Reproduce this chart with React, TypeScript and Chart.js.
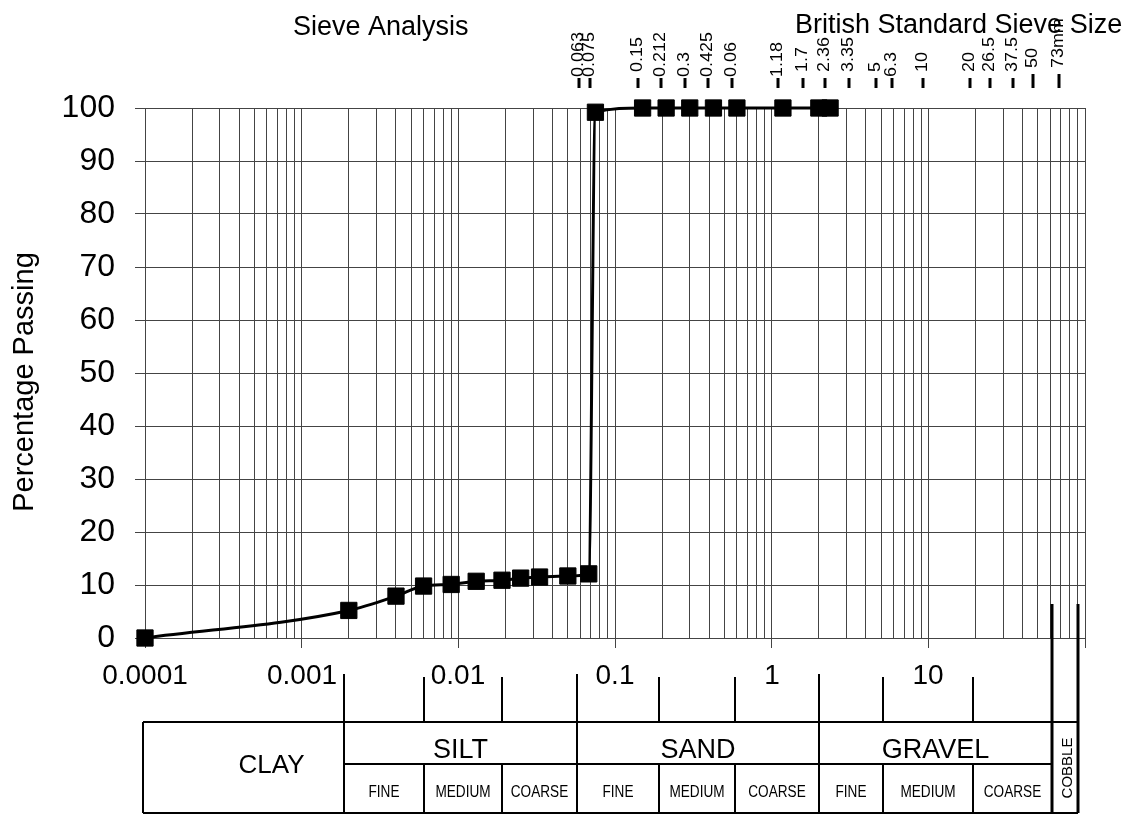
import React, { useEffect, useRef } from 'react';
import { Chart, registerables } from 'chart.js';

Chart.register(...registerables);

const FONT = '"Liberation Sans", Arial, Helvetica, sans-serif';

// ---- Data ----
const grainSize = [0.0001, 0.002, 0.004, 0.006, 0.009, 0.013, 0.019, 0.025, 0.033, 0.05, 0.068, 0.075, 0.15, 0.212, 0.3, 0.425, 0.6, 1.18, 2.0, 2.36];
const percentPassing = [0, 5.2, 7.9, 9.8, 10.1, 10.7, 10.9, 11.3, 11.5, 11.7, 12.1, 99.2, 100, 100, 100, 100, 100, 100, 100, 100];

const xTickValues = [0.0001, 0.001, 0.01, 0.1, 1, 10];
const xTickLabels = ['0.0001', '0.001', '0.01', '0.1', '1', '10'];
const decades = [0.0001, 0.001, 0.01, 0.1, 1, 10];
const multipliers = [1, 2, 3, 4, 5, 6, 7, 8, 9];
const yTickValues = [0, 10, 20, 30, 40, 50, 60, 70, 80, 90, 100];

const sieveSizes = [0.063, 0.075, 0.15, 0.212, 0.3, 0.425, 0.6, 1.18, 1.7, 2.36, 3.35, 5, 6.3, 10, 20, 26.5, 37.5, 50, 73];
const sieveLabels = ['0.063', '0.075', ' 0.15', '0.212', '0.3', '0.425', '0.06', '1.18', ' 1.7', ' 2.36', ' 3.35', ' 5', '6.3', ' 10', ' 20', ' 26.5', ' 37.5', ' 50', ' 73mm'];

const classBounds = [0.00185, 0.006, 0.019, 0.057, 0.19, 0.58, 2.0, 5.1, 19.2, 62, 90];
const mainClasses = ['CLAY', 'SILT', 'SAND', 'GRAVEL', 'COBBLE'];
const subClasses = ['FINE', 'MEDIUM', 'COARSE'];

const titleLeft = 'Sieve Analysis';
const titleRight = 'British Standard Sieve Size';
const yTitle = 'Percentage Passing';

function drawText(ctx: CanvasRenderingContext2D, s: string, x: number, y: number, size: number,
  align: CanvasTextAlign = 'center', baseline: CanvasTextBaseline = 'alphabetic', sx = 1, rot = 0) {
  ctx.save();
  ctx.translate(x, y);
  if (rot) ctx.rotate(rot);
  ctx.scale(sx, 1);
  ctx.font = `${size}px ${FONT}`;
  ctx.textAlign = align;
  ctx.textBaseline = baseline;
  ctx.fillStyle = '#000';
  ctx.fillText(s, 0, 0);
  ctx.restore();
}

function line(ctx: CanvasRenderingContext2D, x1: number, y1: number, x2: number, y2: number, w = 2) {
  ctx.save();
  ctx.strokeStyle = '#000';
  ctx.lineWidth = w;
  ctx.beginPath();
  ctx.moveTo(x1, y1);
  ctx.lineTo(x2, y2);
  ctx.stroke();
  ctx.restore();
}

const overlay = {
  id: 'overlay',
  afterDraw(chart: any) {
    const ctx: CanvasRenderingContext2D = chart.ctx;
    const xs = chart.scales.x;
    const ys = chart.scales.y;
    const px = (v: number) => Math.round(xs.getPixelForValue(v));

    // x tick labels
    xTickValues.forEach((v, i) => drawText(ctx, xTickLabels[i], px(v), 676, 28, 'center', 'middle'));

    // top sieve labels
    sieveSizes.forEach((s, i) => {
      const x = px(s) - 5;
      const long = s >= 50;
      line(ctx, x, long ? 74 : 78, x, 88, 3);
      drawText(ctx, sieveLabels[i], x, long ? 73 : 77, 16, 'left', 'middle', 1.12, -Math.PI / 2);
    });

    // titles
    drawText(ctx, titleLeft, 293, 35, 27, 'left');
    drawText(ctx, titleRight, 795, 33, 27, 'left');
    drawText(ctx, yTitle, 33, 382, 29, 'center', 'alphabetic', 1, -Math.PI / 2);

    // classification table
    const b = classBounds.map(px);
    const left = px(xs.min) - 2;
    const top = 722, mid = 764, bot = 813;
    const cobbleTop = Math.round(ys.getPixelForValue(6.5));
    line(ctx, left, top, b[10], top);
    line(ctx, b[0], mid, b[9], mid);
    line(ctx, left, bot, b[10], bot);
    line(ctx, left, top, left, bot);
    [0, 3, 6].forEach(i => line(ctx, b[i], 674, b[i], bot));
    [1, 2, 4, 5, 7, 8].forEach(i => {
      line(ctx, b[i], 677, b[i], top);
      line(ctx, b[i], mid, b[i], bot);
    });
    line(ctx, b[9], cobbleTop, b[9], bot, 3);
    line(ctx, b[10], cobbleTop, b[10], bot, 3);

    drawText(ctx, mainClasses[0], (left + b[0]) / 2 + 28, 773, 26);
    drawText(ctx, mainClasses[1], (b[0] + b[3]) / 2, 758, 27);
    drawText(ctx, mainClasses[2], (b[3] + b[6]) / 2, 758, 27);
    drawText(ctx, mainClasses[3], (b[6] + b[9]) / 2, 758, 27);
    drawText(ctx, mainClasses[4], (b[9] + b[10]) / 2 + 3, 768, 15, 'center', 'middle', 1, -Math.PI / 2);

    [0, 3, 6].forEach(g => {
      subClasses.forEach((s, k) => {
        const cx = (b[g + k] + b[g + k + 1]) / 2;
        drawText(ctx, s, cx, 797, 16, 'center', 'alphabetic', 0.85);
      });
    });
  },
};

export default function App() {
  const ref = useRef<HTMLCanvasElement>(null);
  useEffect(() => {
    document.body.style.margin = '0';
    const canvas = ref.current!;
    const gridColor = '#444';
    const isMajor = (v: number) => Math.abs(Math.log10(v) - Math.round(Math.log10(v))) < 1e-6;
    const chart = new Chart(canvas, {
      type: 'line',
      data: {
        datasets: [{
          data: grainSize.map((x, i) => ({ x, y: percentPassing[i] })),
          borderColor: '#000',
          borderWidth: 3,
          pointStyle: 'rect',
          pointRadius: 11.5,
          pointBackgroundColor: '#000',
          pointBorderColor: '#000',
          pointBorderWidth: 1,
          cubicInterpolationMode: 'monotone',
          clip: false as any,
        }],
      },
      options: {
        responsive: false,
        animation: false,
        layout: { padding: { top: 108, right: 46, left: 0, bottom: 0 } },
        plugins: { legend: { display: false }, tooltip: { enabled: false } },
        scales: {
          x: {
            type: 'logarithmic',
            min: 0.0001,
            max: 100,
            afterBuildTicks: (s: any) => {
              const t: any[] = [];
              decades.forEach(d => multipliers.forEach(m => t.push({ value: Number((d * m).toPrecision(3)) })));
              t.push({ value: 100 });
              s.ticks = t;
            },
            afterFit: (s: any) => { s.height = 178; },
            ticks: { display: false, autoSkip: false },
            grid: {
              color: gridColor,
              lineWidth: 1,
              drawTicks: true,
              tickLength: 10,
              tickColor: (c: any) => (c.tick && isMajor(c.tick.value) ? gridColor : 'rgba(0,0,0,0)'),
            },
            border: { display: false },
          },
          y: {
            min: 0,
            max: 100,
            afterBuildTicks: (s: any) => { s.ticks = yTickValues.map(v => ({ value: v })); },
            afterFit: (s: any) => { s.width = 145; },
            ticks: { color: '#000', font: { size: 32, family: FONT }, padding: 20, autoSkip: false },
            grid: { color: gridColor, lineWidth: 1, drawTicks: true, tickLength: 10, tickColor: gridColor },
            border: { display: false },
          },
        },
      } as any,
      plugins: [overlay],
    });
    return () => chart.destroy();
  }, []);
  return (
    <div style={{ width: 1131, height: 816, background: '#fff' }}>
      <canvas ref={ref} width={1131} height={816} style={{ display: 'block' }} />
    </div>
  );
}
